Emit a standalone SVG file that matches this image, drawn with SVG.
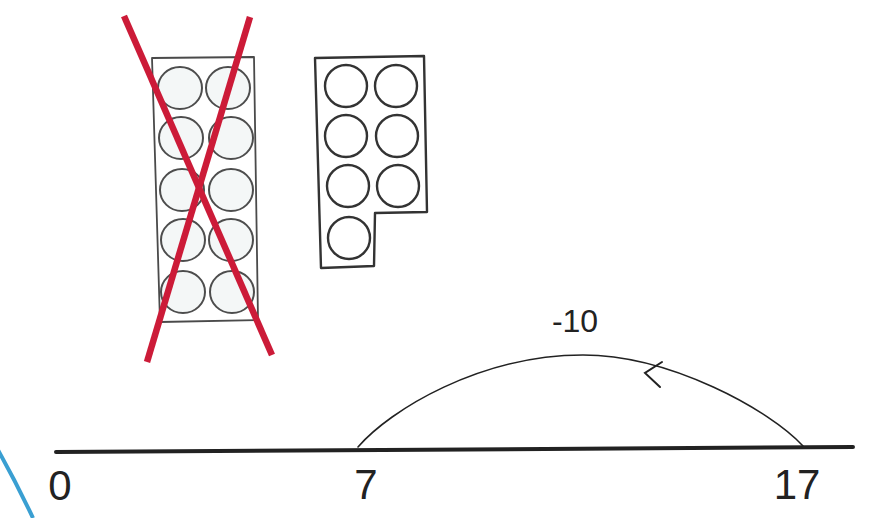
<svg xmlns="http://www.w3.org/2000/svg" width="875" height="518" viewBox="0 0 875 518">
<style>
.frame{fill:none;stroke:#4a4a4a;stroke-width:1.8;stroke-linejoin:round}
.c1{fill:#f4f7f7;stroke:#4d4d4d;stroke-width:2}
.c2{fill:#fff;stroke:#333;stroke-width:2.4}
.cross{stroke:#cc1b38;stroke-width:6.5;stroke-linecap:butt}
.lbl{font-family:"Liberation Sans",Arial,sans-serif;fill:#222;text-anchor:middle}
.ln{fill:none;stroke:#222;stroke-linecap:round}
</style>
<rect width="875" height="518" fill="#fff"/>
<g id="frame-ten">
<polygon class="frame" points="152,58 254,57 258,320 160,322"/>
<ellipse class="c1" cx="180" cy="88" rx="22" ry="21"/>
<ellipse class="c1" cx="228" cy="88" rx="22" ry="21"/>
<ellipse class="c1" cx="181" cy="138" rx="22" ry="21"/>
<ellipse class="c1" cx="231" cy="138" rx="22" ry="21"/>
<ellipse class="c1" cx="182" cy="190" rx="22" ry="21"/>
<ellipse class="c1" cx="231" cy="190" rx="22" ry="21"/>
<ellipse class="c1" cx="183" cy="240" rx="22" ry="21"/>
<ellipse class="c1" cx="231" cy="240" rx="22" ry="21"/>
<ellipse class="c1" cx="183" cy="292" rx="22" ry="21"/>
<ellipse class="c1" cx="232" cy="292" rx="22" ry="21"/>
</g>
<g id="cross">
<line class="cross" x1="124" y1="16" x2="272" y2="355"/>
<line class="cross" x1="250" y1="17" x2="147" y2="362"/>
</g>
<g id="frame-seven">
<polygon class="frame" style="stroke:#333;stroke-width:2.4" points="315,58 424,56 427,212 375,213 374,266 321,268"/>
<circle class="c2" cx="346" cy="86" r="21"/>
<circle class="c2" cx="396" cy="86" r="21"/>
<circle class="c2" cx="346" cy="136" r="21"/>
<circle class="c2" cx="397" cy="136" r="21"/>
<circle class="c2" cx="348" cy="186" r="21"/>
<circle class="c2" cx="398" cy="186" r="21"/>
<circle class="c2" cx="349" cy="238" r="21"/>
</g>
<g id="number-line">
<line class="ln" x1="56" y1="452" x2="853" y2="447" stroke-width="4"/>
<text class="lbl" x="60" y="500" font-size="42">0</text>
<text class="lbl" x="366" y="499" font-size="42">7</text>
<text class="lbl" x="797" y="499" font-size="42">17</text>
</g>
<g id="connectors">
<path class="ln" stroke-width="1.6" d="M358,447 C390,410 480,355 583,355 C670,355 770,410 803,446"/>
<polyline class="ln" stroke-width="2" points="662,362 645,373 660,387"/>
<text class="lbl" x="575" y="332" font-size="32">-10</text>
</g>
<path d="M-2,450 Q16,482 33,518" fill="none" stroke="#3a9fd2" stroke-width="4"/>
</svg>
